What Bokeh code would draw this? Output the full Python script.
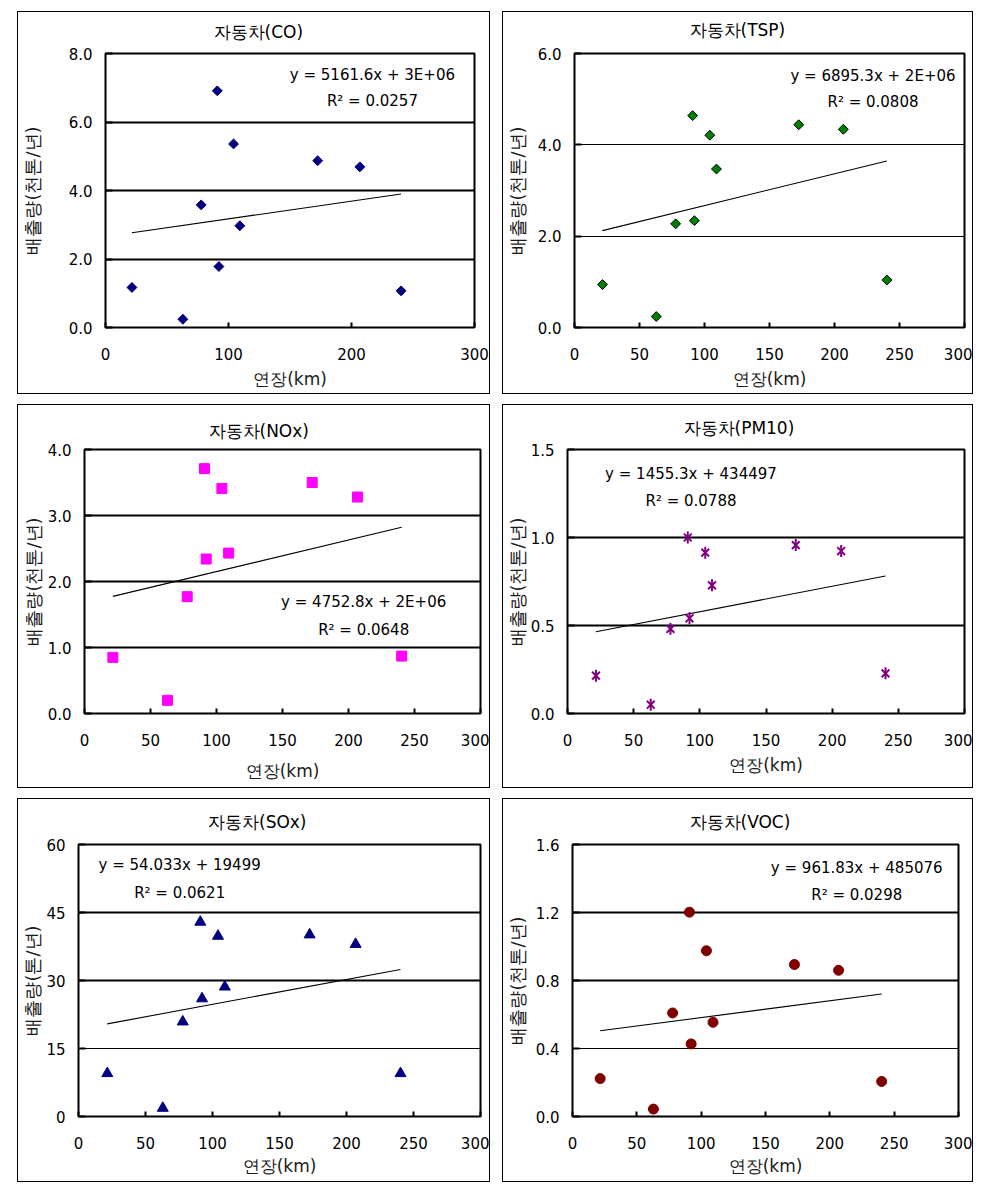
import numpy as np
from bokeh.plotting import figure
from bokeh.models import FixedTicker, Grid, Label, NumeralTickFormatter
from bokeh.layouts import column, row
from bokeh.embed import file_html
from bokeh.resources import INLINE

# ---- data ----
x_km = [21.5, 62.9, 77.8, 90.9, 92.2, 104.1, 109.2, 172.5, 206.8, 240.3]
co = [1.17, 0.24, 3.58, 6.91, 1.78, 5.36, 2.97, 4.87, 4.69, 1.07]
tsp = [0.94, 0.24, 2.27, 4.64, 2.34, 4.21, 3.47, 4.44, 4.34, 1.04]
nox = [0.85, 0.20, 1.77, 3.71, 2.34, 3.41, 2.43, 3.50, 3.28, 0.87]
pm10 = [0.215, 0.050, 0.481, 1.000, 0.541, 0.914, 0.728, 0.957, 0.923, 0.228]
sox = [9.5, 1.85, 20.9, 42.9, 26.0, 39.8, 28.6, 40.1, 38.0, 9.5]
voc = [0.223, 0.0435, 0.609, 1.202, 0.427, 0.975, 0.554, 0.894, 0.860, 0.206]

titles = ["자동차(CO)", "자동차(TSP)", "자동차(NOx)", "자동차(PM10)", "자동차(SOx)", "자동차(VOC)"]
equations = ["y = 5161.6x + 3E+06", "y = 6895.3x + 2E+06", "y = 4752.8x + 2E+06",
             "y = 1455.3x + 434497", "y = 54.033x + 19499", "y = 961.83x + 485076"]
r2_texts = ["R² = 0.0257", "R² = 0.0808", "R² = 0.0648", "R² = 0.0788", "R² = 0.0621", "R² = 0.0298"]
x_label = "연장(km)"
y_labels = ["배출량(천톤/년)"] * 4 + ["배출량(톤/년)", "배출량(천톤/년)"]

FONT = "DejaVu Sans"   # Hangul glyphs fall back to the installed CJK font


def make_panel(title, ys, ylab, y_max, y_step, thick, thin, fmt, x_step, eq, r2,
               eq_xy, r2_xy, size, borders, title_offset, title_lh,
               ylab_standoff, xlab_standoff, marker_fn):
    w, h = size
    left, right, top, bottom = borders
    p = figure(width=w, height=h, x_range=(0, 300), y_range=(0, y_max),
               title=title + "\n",
               output_backend="svg", toolbar_location=None,
               min_border_left=left, min_border_right=right,
               min_border_top=top, min_border_bottom=bottom,
               styles={"border": "1px solid black"})
    p.background_fill_color = "white"
    p.border_fill_color = "white"
    p.outline_line_color = "black"
    p.outline_line_width = 2

    p.title.align = "left"
    p.title.offset = title_offset
    p.title.standoff = 0
    p.title.vertical_align = "bottom"
    p.title.text_line_height = title_lh
    p.title.text_font = FONT
    p.title.text_font_size = "17px"
    p.title.text_font_style = "normal"
    p.title.text_color = "black"

    yt = list(np.arange(0, y_max + y_step / 2, y_step))
    p.yaxis.ticker = FixedTicker(ticks=yt)
    p.yaxis.formatter = NumeralTickFormatter(format=fmt)
    p.xaxis.ticker = FixedTicker(ticks=list(range(0, 301, x_step)))

    for ax in (p.xaxis[0], p.yaxis[0]):
        ax.axis_line_color = None
        ax.major_tick_out = 0
        ax.minor_tick_out = 0
        ax.minor_tick_in = 0
        ax.major_tick_line_width = 2
        ax.major_tick_line_color = "black"
        ax.major_label_text_font = FONT
        ax.major_label_text_font_size = "15px"
        ax.major_label_text_color = "black"
        ax.axis_label_text_font = FONT
        ax.axis_label_text_font_style = "normal"
        ax.axis_label_text_color = "#1a1a1a"
    p.xaxis.axis_label_text_font_size = "17px"
    p.yaxis.axis_label_text_font_size = "18px"
    p.yaxis.major_tick_in = 7
    p.xaxis.major_tick_in = 5
    p.yaxis.major_label_standoff = 13
    p.xaxis.major_label_standoff = 20
    p.xaxis.axis_label = x_label
    p.yaxis.axis_label = ylab
    p.yaxis.axis_label_standoff = int(ylab_standoff)
    p.xaxis.axis_label_standoff = int(xlab_standoff)

    p.xgrid.visible = False
    p.ygrid.ticker = FixedTicker(ticks=thick)
    p.ygrid.grid_line_color = "black"
    p.ygrid.grid_line_width = 2
    if thin:
        p.add_layout(Grid(dimension=1, ticker=FixedTicker(ticks=thin),
                          grid_line_color="black", grid_line_width=1))

    coef = np.polyfit(x_km, ys, 1)
    xs = [min(x_km), max(x_km)]
    p.line(xs, list(np.polyval(coef, xs)), line_color="black", line_width=1.1)

    marker_fn(p, ys)

    p.add_layout(Label(x=eq_xy[0], y=eq_xy[1], text=eq, text_align="center",
                       text_baseline="middle", text_font=FONT, text_font_size="15px",
                       text_color="black"))
    p.add_layout(Label(x=r2_xy[0], y=r2_xy[1], text=r2, text_align="center",
                       text_baseline="middle", text_font=FONT, text_font_size="15px",
                       text_color="black"))
    return p


def m_co(p, ys):
    p.scatter(x_km, ys, marker="square", angle=np.pi / 4, size=7,
              fill_color="#000080", line_color="#000080")


def m_tsp(p, ys):
    p.scatter(x_km, ys, marker="square", angle=np.pi / 4, size=7,
              fill_color="#008000", line_color="black", line_width=1)


def m_nox(p, ys):
    p.scatter(x_km, ys, marker="square", size=10,
              fill_color="#FF00FF", line_color="#FF00FF")


def m_pm10(p, ys):
    p.scatter(x_km, ys, marker="x", size=11, line_color="#800080", line_width=2)
    p.scatter(x_km, ys, marker="dash", angle=np.pi / 2, size=12,
              line_color="#800080", line_width=2)


def m_sox(p, ys):
    p.scatter(x_km, ys, marker="triangle", size=11,
              fill_color="#000080", line_color="#000080")


def m_voc(p, ys):
    p.scatter(x_km, ys, marker="circle", size=10,
              fill_color="#800000", line_color="#800000")


p1 = make_panel(titles[0], co, y_labels[0], 8, 2, [2, 4, 6], [], "0.0", 100,
                equations[0], r2_texts[0], (217, 7.37), (217, 6.60),
                (473, 383), (87, 17, 39, 68), 108, 0.56, 23, 6, m_co)
p2 = make_panel(titles[1], tsp, y_labels[1], 6, 2, [], [2, 4], "0.0", 50,
                equations[1], r2_texts[1], (229.6, 5.515), (229.6, 4.947),
                (471, 383), (71, 10, 41, 68), 115, 0.66, 7, 6, m_tsp)
p3 = make_panel(titles[2], nox, y_labels[2], 4, 1, [1, 2, 3], [], "0.0", 50,
                equations[2], r2_texts[2], (211.5, 1.682), (211.5, 1.271),
                (473, 384), (66, 11, 37, 76), 124, 0.42, 1, 12, m_nox)
p4 = make_panel(titles[3], pm10, y_labels[3], 1.5, 0.5, [0.5, 1.0], [], "0.0", 50,
                equations[3], r2_texts[3], (93.3, 1.362), (93.3, 1.209),
                (471, 384), (63, 10, 44, 70), 116, 0.57, 0, 6, m_pm10)
p5 = make_panel(titles[4], sox, y_labels[4], 60, 15, [30, 45], [15], "0", 50,
                equations[4], r2_texts[4], (75.5, 55.48), (75.5, 49.39),
                (473, 384), (60, 11, 45, 67), 129.5, 0.64, 0, 4, m_sox)
p6 = make_panel(titles[5], voc, y_labels[5], 1.6, 0.4, [0.8, 1.2], [0.4], "0.0", 50,
                equations[5], r2_texts[5], (220.9, 1.462), (220.9, 1.302),
                (471, 384), (69, 16, 45, 67), 117, 0.64, 5, 4, m_voc)

layout = column(row(p1, p2, spacing=12), row(p3, p4, spacing=12), row(p5, p6, spacing=12),
                spacing=10, margin=(11, 0, 0, 17))

open("out.html", "w").write(file_html(layout, INLINE))
